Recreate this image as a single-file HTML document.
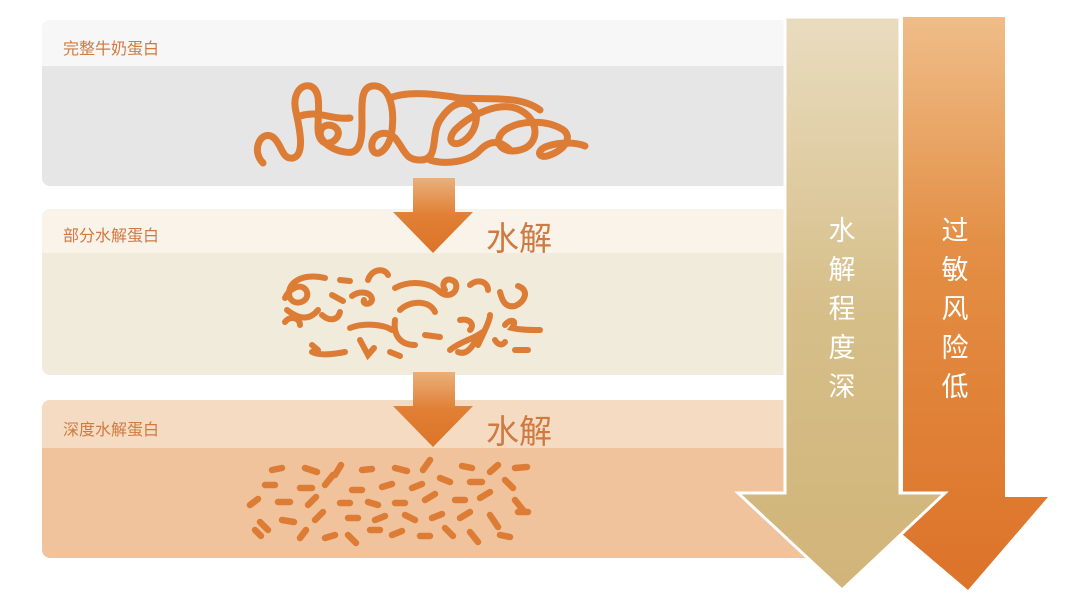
<!DOCTYPE html>
<html><head><meta charset="utf-8"><style>
html,body{margin:0;padding:0;background:#fff;width:1080px;height:611px;overflow:hidden;position:relative;font-family:"Liberation Sans","Noto Sans CJK SC",sans-serif}
.p{position:absolute;left:42px;border-radius:8px;overflow:hidden}
.h{position:absolute;left:0;right:0;top:0}
.b{position:absolute;left:0;right:0;bottom:0}
.lab{position:absolute;left:21px;font-size:16px;color:#cf7a40}
.hj{position:absolute;font-size:33px;color:#cf7a40;left:486px}
</style></head><body>
<div class="p" style="top:20px;width:760px;height:166px;background:#e6e6e7">
 <div class="h" style="height:46px;background:#f7f7f7"></div>
 <div class="lab" style="top:15px">完整牛奶蛋白</div>
</div>
<div class="p" style="top:209px;width:760px;height:166px;background:#f1ebdc">
 <div class="h" style="height:44px;background:#f9f3ea"></div>
 <div class="lab" style="top:13px">部分水解蛋白</div>
</div>
<div class="p" style="top:400px;width:770px;height:158px;background:#f0c39d">
 <div class="h" style="height:48px;background:#f6dbc3"></div>
 <div class="lab" style="top:16px">深度水解蛋白</div>
</div>
<div class="hj" style="top:212px">水解</div>
<div class="hj" style="top:405px">水解</div>
<svg width="1080" height="611" style="position:absolute;left:0;top:0">
<defs>
<linearGradient id="sa" x1="0" y1="0" x2="0" y2="1"><stop offset="0" stop-color="#eab07a"/><stop offset="0.5" stop-color="#e07f35"/><stop offset="1" stop-color="#dc7428"/></linearGradient>
<linearGradient id="gold" x1="0" y1="0" x2="0" y2="1"><stop offset="0" stop-color="#e9dcbf"/><stop offset="0.5" stop-color="#d6bf8a"/><stop offset="1" stop-color="#d1b478"/></linearGradient>
<linearGradient id="org" x1="0" y1="0" x2="0" y2="1"><stop offset="0" stop-color="#efbd88"/><stop offset="0.4" stop-color="#e38f45"/><stop offset="1" stop-color="#dc7329"/></linearGradient>
</defs>
<polygon points="413,178 455,178 455,212 473,212 433,253 393,212 413,212" fill="url(#sa)"/>
<polygon points="413,372 455,372 455,406 473,406 433,447 393,406 413,406" fill="url(#sa)"/>
<polygon points="903,17 1005,17 1005,497 1048,497 968,590 895,528 903,497" fill="url(#org)"/>
<polygon points="785,17 900,17 900,493 945,493 842,590 738,493 785,493" fill="url(#gold)" stroke="#fff" stroke-width="3"/>
<g fill="none" stroke="#dc7c35" stroke-width="7" stroke-linecap="round" stroke-linejoin="round">
<path d="M263,163 C250,150 262,128 274,138 C282,145 282,160 293,158 C305,155 300,130 296,112 C292,95 300,84 310,86 C322,90 318,110 318,128 C318,140 325,148 335,140 C345,130 330,120 322,128 C315,138 330,150 345,152 C360,155 362,140 362,125 C362,105 360,88 372,86 C388,84 395,105 392,130 C390,150 375,160 372,148 C370,135 385,128 395,138 C405,150 405,160 420,160 C440,160 430,135 440,120 C450,105 460,100 470,105 C480,110 478,130 465,140 C455,148 445,142 455,130 C470,115 500,100 520,110 C540,120 540,145 520,150 C500,155 492,140 505,130 C520,120 545,120 560,128 C575,135 565,150 550,155 C538,160 535,150 548,146 C560,142 575,142 585,146"/>
<path d="M300,116 C320,110 330,120 350,118 M390,98 C410,90 440,95 460,98 C490,100 520,95 540,110 M430,160 C445,165 470,162 480,150 C490,140 500,140 510,150"/>
</g>
<g fill="none" stroke="#dc7c35" stroke-width="6" stroke-linecap="round">
<path d="M325,278 C300,272 285,285 290,298 C296,308 312,300 306,290 C300,282 288,290 285,298"/>
<path d="M285,322 C290,315 300,318 300,325"/>
<path d="M287,310 C300,320 310,320 318,310"/>
<path d="M322,315 C330,322 338,320 340,312"/>
<path d="M340,280 L350,281"/>
<path d="M332,295 L343,301"/>
<path d="M368,280 C372,268 385,268 388,275"/>
<path d="M352,296 C360,290 372,292 372,300 C370,306 362,304 364,300"/>
<path d="M312,352 C320,356 335,354 345,352"/>
<path d="M312,345 L318,350"/>
<path d="M350,328 C365,322 385,325 392,330"/>
<path d="M360,340 L368,355 L374,348"/>
<path d="M395,288 C410,280 430,282 440,292 C450,300 460,290 455,282 C448,276 440,282 445,290"/>
<path d="M400,310 C410,300 430,300 435,312"/>
<path d="M395,320 C393,335 400,345 415,345"/>
<path d="M425,335 L440,337"/>
<path d="M390,352 L400,356"/>
<path d="M470,285 C478,278 488,282 488,290"/>
<path d="M460,320 C470,318 475,325 470,330"/>
<path d="M450,350 C460,342 470,340 478,335 C472,350 465,355 458,352"/>
<path d="M478,345 C485,330 490,320 490,315"/>
<path d="M500,292 C502,300 505,308 515,306 C525,302 530,290 518,286"/>
<path d="M505,325 C510,318 518,320 512,328 C520,330 530,330 540,330"/>
<path d="M515,350 L528,350"/>
<path d="M495,340 C498,345 502,346 505,342"/>
</g>
<g stroke="#dc7c35" stroke-width="6.5" stroke-linecap="round">
<path d="M272,470 l10,-2 M305,468 l12,4 M335,475 l6,-10 M362,470 l10,-1 M395,468 l12,3 M423,470 l7,-10 M462,466 l10,2 M490,472 l8,-7 M515,468 l12,-1 M265,485 l10,0 M300,488 l12,0 M325,485 l8,-10 M352,490 l10,0 M382,487 l10,-3 M412,488 l10,-4 M440,478 l10,4 M470,482 l12,0 M505,480 l8,8 M250,505 l8,-6 M278,502 l12,0 M308,505 l8,-8 M340,503 l10,0 M368,502 l10,3 M395,503 l10,0 M425,500 l10,-6 M455,500 l10,0 M480,498 l10,-6 M515,500 l8,10 M260,522 l8,8 M282,520 l12,2 M315,520 l8,-8 M348,518 l10,0 M375,520 l10,-4 M405,515 l10,5 M432,518 l10,-4 M460,518 l10,-6 M490,515 l8,12 M518,512 l10,0 M300,538 l6,-8 M325,538 l10,-3 M348,535 l8,8 M370,530 l10,0 M392,535 l10,-4 M420,536 l10,0 M445,528 l8,8 M470,532 l8,10 M500,535 l10,2 M255,530 l6,6"/>
</g>
</svg>
<div style="position:absolute;left:826px;top:212px;width:32px;font-size:27px;line-height:39px;color:#fff;text-align:center">水<br>解<br>程<br>度<br>深</div>
<div style="position:absolute;left:939px;top:212px;width:32px;font-size:27px;line-height:39px;color:#fff;text-align:center">过<br>敏<br>风<br>险<br>低</div>
</body></html>
